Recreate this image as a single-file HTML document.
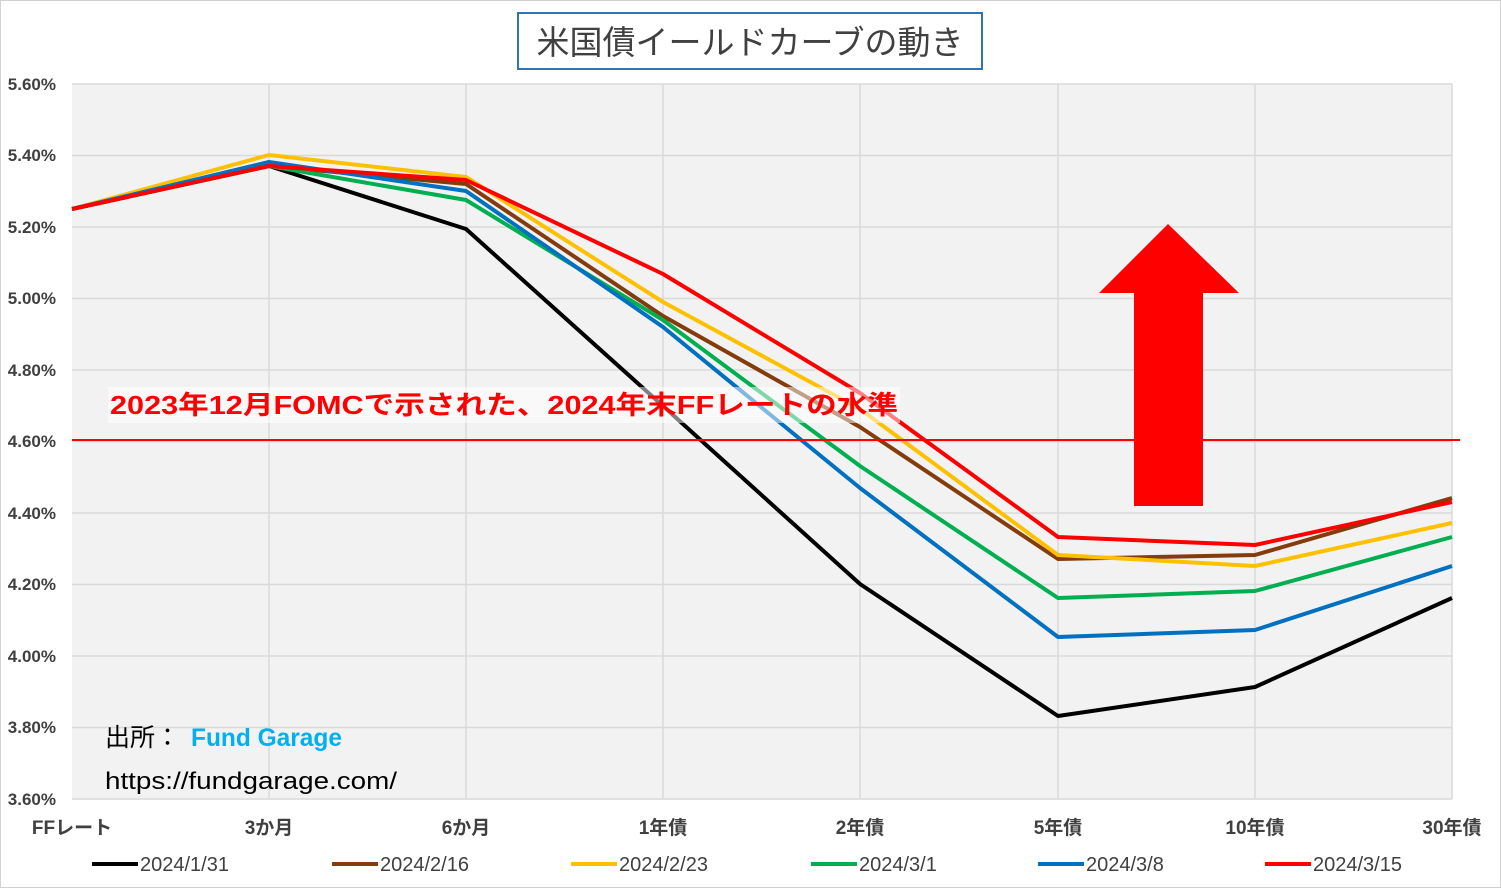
<!DOCTYPE html>
<html><head><meta charset="utf-8"><style>
body{margin:0;background:#fff;}
svg text{font-family:"Liberation Sans","Noto Sans CJK JP",sans-serif;}
</style></head><body>
<svg width="1501" height="888" xmlns="http://www.w3.org/2000/svg">
<rect x="0.5" y="0.5" width="1500" height="887" fill="#fff" stroke="#d0d0d0"/>
<rect x="72" y="84" width="1380" height="715" fill="#f2f2f2"/>
<g stroke="#d9d9d9" stroke-width="1.5">
<line x1="72" x2="1452" y1="84" y2="84"/><line x1="72" x2="1452" y1="155.5" y2="155.5"/>
<line x1="72" x2="1452" y1="227" y2="227"/><line x1="72" x2="1452" y1="298.5" y2="298.5"/>
<line x1="72" x2="1452" y1="370" y2="370"/><line x1="72" x2="1452" y1="441.5" y2="441.5"/>
<line x1="72" x2="1452" y1="513" y2="513"/><line x1="72" x2="1452" y1="584.5" y2="584.5"/>
<line x1="72" x2="1452" y1="656" y2="656"/><line x1="72" x2="1452" y1="727.5" y2="727.5"/>
<line x1="72" x2="1452" y1="799" y2="799"/>
<line x1="269" x2="269" y1="84" y2="799"/><line x1="466" x2="466" y1="84" y2="799"/>
<line x1="663" x2="663" y1="84" y2="799"/><line x1="860" x2="860" y1="84" y2="799"/>
<line x1="1058" x2="1058" y1="84" y2="799"/><line x1="1255" x2="1255" y1="84" y2="799"/>
<line x1="1452" x2="1452" y1="84" y2="799"/>
</g>
<g font-size="17" font-weight="bold" fill="#404040" text-anchor="end">
<text x="56" y="90">5.60%</text><text x="56" y="161">5.40%</text><text x="56" y="233">5.20%</text>
<text x="56" y="304">5.00%</text><text x="56" y="376">4.80%</text><text x="56" y="447">4.60%</text>
<text x="56" y="519">4.40%</text><text x="56" y="590">4.20%</text><text x="56" y="662">4.00%</text>
<text x="56" y="733">3.80%</text><text x="56" y="805">3.60%</text>
</g>
<g font-size="19" font-weight="bold" fill="#404040" text-anchor="middle">
<text x="72" y="834">FFレート</text><text x="269" y="834">3か月</text><text x="466" y="834">6か月</text>
<text x="663" y="834">1年債</text><text x="860" y="834">2年債</text><text x="1058" y="834">5年債</text>
<text x="1255" y="834">10年債</text><text x="1452" y="834">30年債</text>
</g>
<g fill="none" stroke-width="4" stroke-linejoin="round">
<polyline stroke="#000" points="72,209 269,166 466,229 663,406 860,584 1058,716 1255,687 1452,598"/>
<polyline stroke="#843c0c" points="72,209 269,166 466,184 663,316 860,427 1058,559 1255,555 1452,498"/>
<polyline stroke="#ffc000" points="72,209 269,155 466,177 663,302 860,409 1058,555 1255,566 1452,523"/>
<polyline stroke="#00b050" points="72,209 269,166 466,200 663,320 860,466 1058,598 1255,591 1452,537"/>
<polyline stroke="#0070c0" points="72,209 269,162 466,191 663,327 860,488 1058,637 1255,630 1452,566"/>
<polyline stroke="#ff0000" points="72,209 269,166 466,180 663,274 860,393 1058,537 1255,545 1452,502"/>
</g>
<line x1="72" x2="1460" y1="440" y2="440" stroke="#ff0000" stroke-width="2"/>
<rect x="108" y="387" width="792" height="36" fill="#fff" opacity="0.5"/>
<text x="110" y="414" font-size="26" font-weight="bold" fill="#ff0000" textLength="788" lengthAdjust="spacingAndGlyphs">2023年12月FOMCで示された、2024年末FFレートの水準</text>
<polygon fill="#ff0000" points="1168,224 1239,293 1203,293 1203,506 1134,506 1134,293 1099,293"/>
<rect x="518" y="13" width="464" height="56" fill="#fff" stroke="#2e75b6" stroke-width="2"/>
<text x="750" y="54" font-size="33" fill="#404040" text-anchor="middle">米国債イールドカーブの動き</text>
<text x="105" y="746" font-size="25" fill="#000">出所：</text>
<text x="191" y="746" font-size="25" font-weight="bold" fill="#00b0f0" textLength="151" lengthAdjust="spacingAndGlyphs">Fund Garage</text>
<text x="105" y="789" font-size="24" fill="#000" textLength="292" lengthAdjust="spacingAndGlyphs">https://fundgarage.com/</text>
<g stroke-width="4">
<line x1="92" x2="138" y1="864" y2="864" stroke="#000"/>
<line x1="332" x2="378" y1="864" y2="864" stroke="#843c0c"/>
<line x1="571" x2="617" y1="864" y2="864" stroke="#ffc000"/>
<line x1="811" x2="857" y1="864" y2="864" stroke="#00b050"/>
<line x1="1038" x2="1084" y1="864" y2="864" stroke="#0070c0"/>
<line x1="1265" x2="1311" y1="864" y2="864" stroke="#ff0000"/>
</g>
<g font-size="20" fill="#404040">
<text x="140" y="871">2024/1/31</text><text x="380" y="871">2024/2/16</text>
<text x="619" y="871">2024/2/23</text><text x="859" y="871">2024/3/1</text>
<text x="1086" y="871">2024/3/8</text><text x="1313" y="871">2024/3/15</text>
</g>
</svg>
</body></html>
